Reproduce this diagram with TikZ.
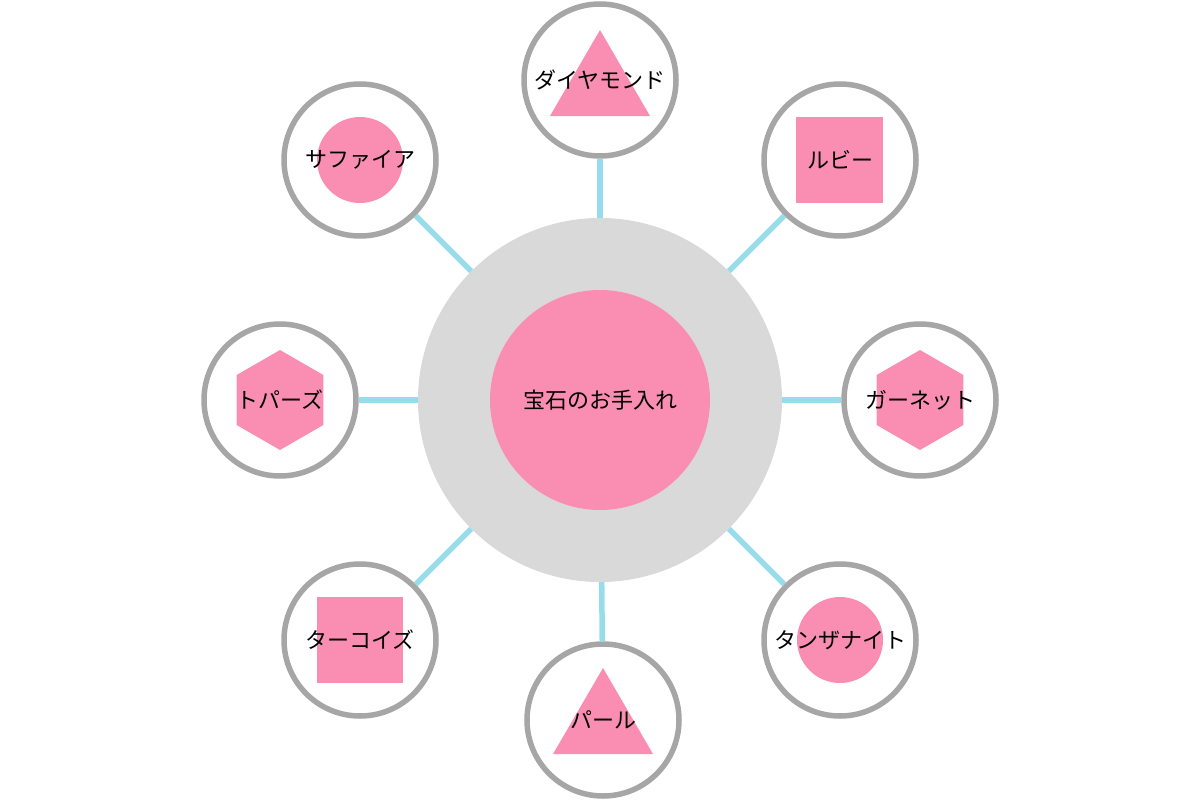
\documentclass[tikz,border=0pt]{standalone}
\usepackage{fontspec}
\setmainfont{Noto Sans CJK JP}
\usetikzlibrary{shapes.geometric}
\definecolor{pk}{HTML}{FA8EB2}
\definecolor{gr}{HTML}{D9D9D9}
\definecolor{rim}{HTML}{A6A6A6}
\definecolor{ln}{HTML}{97DCEA}
\begin{document}
\begin{tikzpicture}[x=1pt,y=-1pt,
  sat/.style={circle,draw=rim,line width=3.5pt,fill=white,minimum size=154pt,inner sep=0pt},
  con/.style={ln,line width=5.5pt},
  lab/.style={font=\fontsize{22}{24}\selectfont,inner sep=0pt},
  shp/.style={fill=pk,draw=none}]
\useasboundingbox (0,0) rectangle (1200,800);
\node[circle,fill=gr,minimum size=364pt,inner sep=0pt] (hub) at (600,400) {};
\node[circle,fill=pk,minimum size=220pt,inner sep=0pt] (core) at (600,400) {};
\node[lab] at (600,400) {宝石のお手入れ};
\foreach \n/\x/\y in {dia/600/80,rub/840/160,gar/920/400,tan/840/640,per/603/720,tur/360/640,top/280/400,sap/360/160}{
  \node[sat] (\n) at (\x,\y) {};
  \draw[con] (hub) -- (\n);
  \fill[white] (\x,\y) circle (75);
  \draw[rim,line width=3.5pt] (\x,\y) circle (75);
}
\fill[pk] (600,30) -- (650,116) -- (550,116) -- cycle;
\fill[pk] (796,117) rectangle (883,203);
\fill[pk] (360,160) circle (43);
\node[shp,regular polygon,regular polygon sides=6,rotate=30,minimum size=100pt] at (280,400) {};
\node[shp,regular polygon,regular polygon sides=6,rotate=30,minimum size=100pt] at (920,400) {};
\fill[pk] (317,597) rectangle (403,683);
\fill[pk] (603,668) -- (653,754) -- (553,754) -- cycle;
\fill[pk] (840,640) circle (43);
\node[lab] at (600,80) {ダイヤモンド};
\node[lab] at (840,160) {ルビー};
\node[lab] at (920,400) {ガーネット};
\node[lab] at (840,640) {タンザナイト};
\node[lab] at (603,720) {パール};
\node[lab] at (360,640) {ターコイズ};
\node[lab] at (280,400) {トパーズ};
\node[lab] at (360,160) {サファイア};
\end{tikzpicture}
\end{document}
